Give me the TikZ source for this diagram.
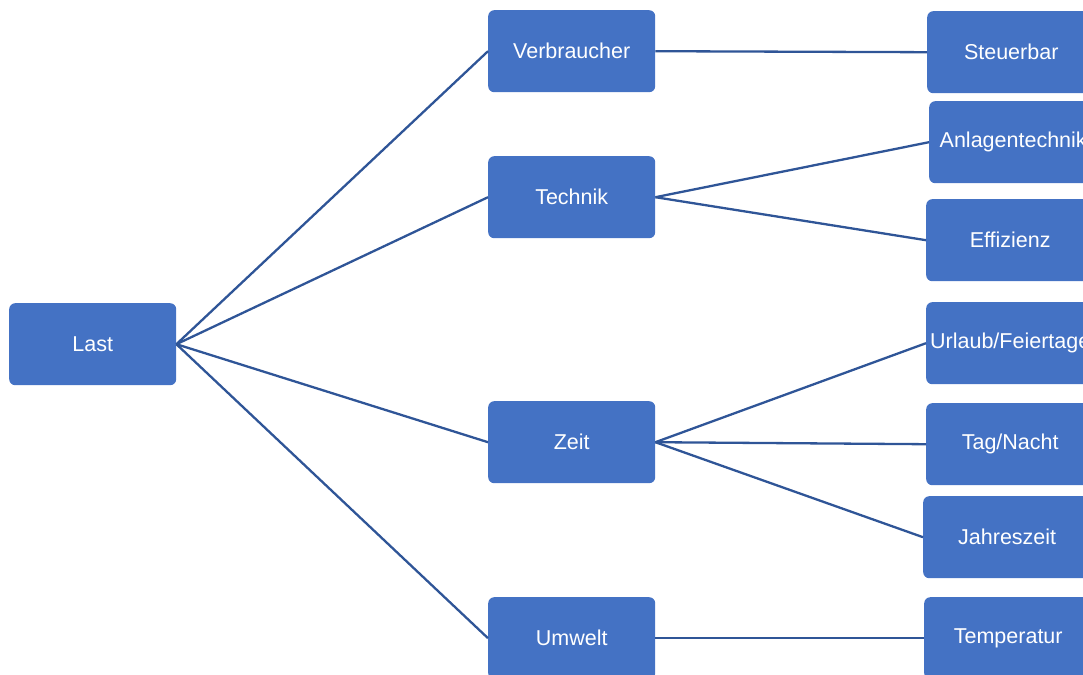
\documentclass[tikz,border=0pt]{standalone}
\usepackage{fontspec}
\setmainfont{Liberation Sans}
\definecolor{boxblue}{HTML}{4472C4}
\definecolor{lineblue}{HTML}{2F5597}
\begin{document}
\begin{tikzpicture}[x=1pt,y=-1pt,
  box/.style={fill=boxblue,draw=none,rounded corners=6pt,minimum width=167pt,minimum height=82pt,
    inner sep=0pt,text=white,font=\fontsize{21.5}{25}\selectfont,anchor=north west},
  conn/.style={draw=lineblue,line width=2.3pt}]
\useasboundingbox (0,0) rectangle (1083,674);
\node[box] (last) at (9,303) {Last};
\node[box] (verb) at (488,10) {Verbraucher};
\node[box] (tech) at (488,156) {Technik};
\node[box] (zeit) at (488,401) {Zeit};
\node[box] (umw) at (488,597) {Umwelt};
\node[box,minimum width=168pt] (steu) at (927,11) {Steuerbar};
\node[box,minimum width=168pt] (anl) at (929,101) {Anlagentechnik};
\node[box,minimum width=168pt] (eff) at (926,199) {Effizienz};
\node[box,minimum width=168pt] (url) at (926,302) {Urlaub/Feiertage};
\node[box,minimum width=168pt] (tag) at (926,403) {Tag/Nacht};
\node[box,minimum width=168pt] (jahr) at (923,496) {Jahreszeit};
\node[box,minimum width=168pt] (temp) at (924,597) {Temperatur};
\draw[conn] (last.east) -- (verb.west);
\draw[conn] (last.east) -- (tech.west);
\draw[conn] (last.east) -- (zeit.west);
\draw[conn] (last.east) -- (umw.west);
\draw[conn] (verb.east) -- (steu.west);
\draw[conn] (tech.east) -- (anl.west);
\draw[conn] (tech.east) -- (eff.west);
\draw[conn] (zeit.east) -- (url.west);
\draw[conn] (zeit.east) -- (tag.west);
\draw[conn] (zeit.east) -- (jahr.west);
\draw[conn] (umw.east) -- (temp.west);
\end{tikzpicture}
\end{document}
